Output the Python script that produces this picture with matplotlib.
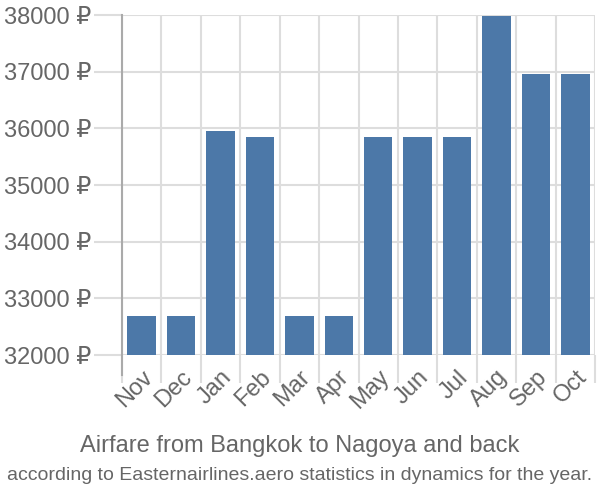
import matplotlib
matplotlib.use('Agg')
import matplotlib.pyplot as plt
import numpy as np

months = ['Nov', 'Dec', 'Jan', 'Feb', 'Mar', 'Apr', 'May', 'Jun', 'Jul', 'Aug', 'Sep', 'Oct']
prices = [32690, 32690, 35950, 35850, 32690, 32690, 35850, 35850, 35850, 37980, 36960, 36960]
yticks = [32000, 33000, 34000, 35000, 36000, 37000, 38000]

plt.rcParams['font.family'] = ['Liberation Sans', 'DejaVu Sans']

fig = plt.figure(figsize=(6, 5), dpi=100)
ax = fig.add_axes([0.203, 0.29, 0.789, 0.68])

x = np.arange(len(months))
ax.bar(x, [p - 32000 for p in prices], bottom=32000, width=0.72, color='#4c78a8', zorder=3)

ax.set_xlim(-0.5, len(months) - 0.5)
ax.set_ylim(32000, 38000)

# grid at category edges
ax.set_xticks(x)
ax.set_xticklabels(months, rotation=45, ha='right', rotation_mode='anchor')
ax.set_xticks(np.arange(-0.5, len(months), 1.0), minor=True)
ax.grid(True, which='minor', axis='x', color='#dddddd', linewidth=1.5, zorder=0)
ax.grid(True, which='major', axis='y', color='#dddddd', linewidth=1.5, zorder=0)
ax.tick_params(axis='x', which='major', length=0, pad=8, labelsize=17, labelcolor='#666666')
ax.tick_params(axis='x', which='minor', length=20, width=1.5, color='#dddddd')

ax.set_yticks(yticks)
ax.set_yticklabels(['{} \u20bd'.format(v) for v in yticks])
ax.tick_params(axis='y', length=20, width=1.5, color='#dddddd', labelsize=17, labelcolor='#666666', pad=2)

for s in ['top', 'right', 'bottom']:
    ax.spines[s].set_visible(False)
ax.spines['left'].set_color('#aaaaaa')
ax.spines['left'].set_linewidth(1.5)
ax.spines['left'].set_bounds(31650, 38000)
ax.spines['left'].set_clip_on(False)

fig.text(0.5, 0.108, 'Airfare from Bangkok to Nagoya and back', ha='center', va='center',
         fontsize=17, color='#666666')
fig.text(0.5, 0.05, 'according to Easternairlines.aero statistics in dynamics for the year.',
         ha='center', va='center', fontsize=14, color='#666666')

plt.savefig('out.png')
